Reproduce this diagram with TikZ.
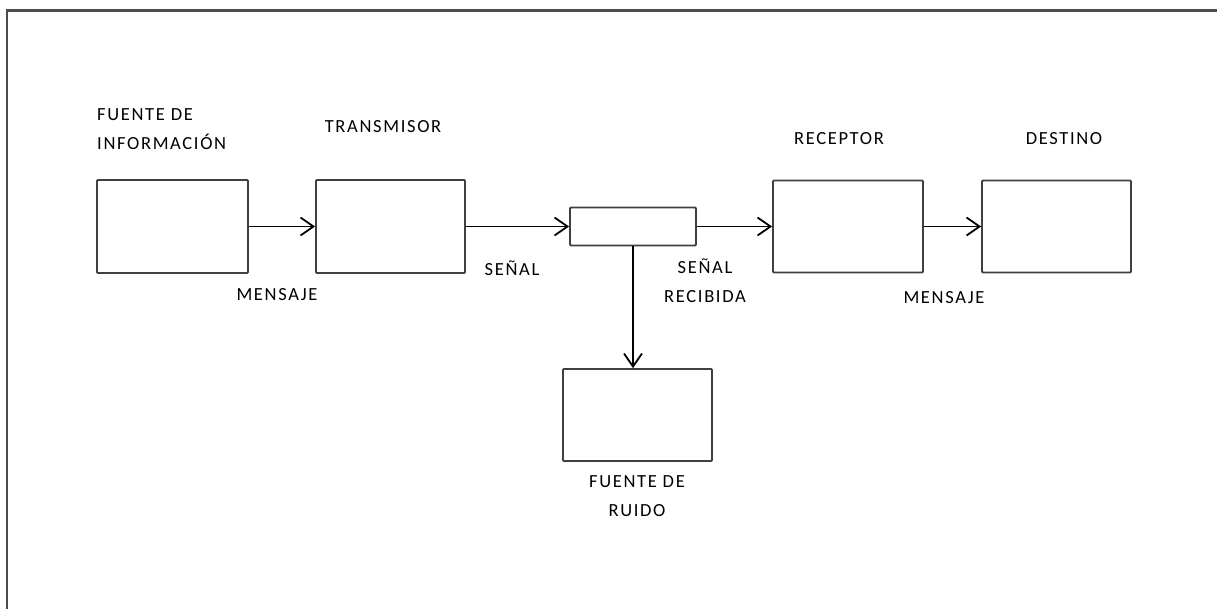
\documentclass[tikz,border=0pt]{standalone}
\usepackage{fontspec}
\setmainfont{Carlito}[LetterSpace=9]
\usepackage{tikz}
\usetikzlibrary{arrows.meta}
\usetikzlibrary{positioning}

\begin{document}
\begin{tikzpicture}[x=1pt,y=-1pt,font=\fontsize{18.5}{29}\selectfont]
\tikzstyle{bloque}=[draw=black!75,line width=1.8pt,rounded corners=1pt,fill=white,inner sep=0pt]
\tikzstyle{etiqueta}=[inner sep=0pt,text=black,align=center]
\tikzstyle{flecha}=[line width=1.8pt,-{Straight Barb[length=13pt,width=18pt,line width=1.8pt]}]
\useasboundingbox (0,0) rectangle (1217,609);
% marco
\draw[line width=2.5pt,black!70] (7,609) -- (7,10.5) -- (1217,10.5);
% bloques
\node [bloque,minimum width=151pt,minimum height=93pt] (fuente) at (172.5,226.5) {};
\node [bloque,minimum width=149pt,minimum height=93pt] (trans) at (390.5,226.5) {};
\node [bloque,minimum width=126pt,minimum height=38pt] (canal) at (633,226.5) {};
\node [bloque,minimum width=150pt,minimum height=92pt] (recep) at (848,226.5) {};
\node [bloque,minimum width=149pt,minimum height=92pt] (dest) at (1056.5,226.5) {};
\node [bloque,minimum width=149pt,minimum height=92pt] (ruido) at (637.5,415) {};
% textos
\node [etiqueta,align=left,anchor=west] (tfuente) at (97,129.5) {FUENTE DE\\INFORMACIÓN};
\node [etiqueta] (ttrans) at (383,127) {TRANSMISOR};
\node [etiqueta] (msj1) at (277,295) {MENSAJE};
\node [etiqueta] (senal) at (512,268) {SEÑAL};
\node [etiqueta] (recib) at (705,281) {SEÑAL\\RECIBIDA};
\node [etiqueta] (trecep) at (839,139) {RECEPTOR};
\node [etiqueta] (tdest) at (1064,139) {DESTINO};
\node [etiqueta] (msj2) at (944,298) {MENSAJE};
\node [etiqueta] (truido) at (637,496) {FUENTE DE\\RUIDO};
% conexiones
\draw [flecha] (fuente) -- (trans);
\draw [flecha] (trans) -- (canal);
\draw [flecha] (canal) -- (recep);
\draw [flecha] (recep) -- (dest);
\draw [flecha] (canal.south) -- (canal.south |- ruido.north);
\end{tikzpicture}
\end{document}
